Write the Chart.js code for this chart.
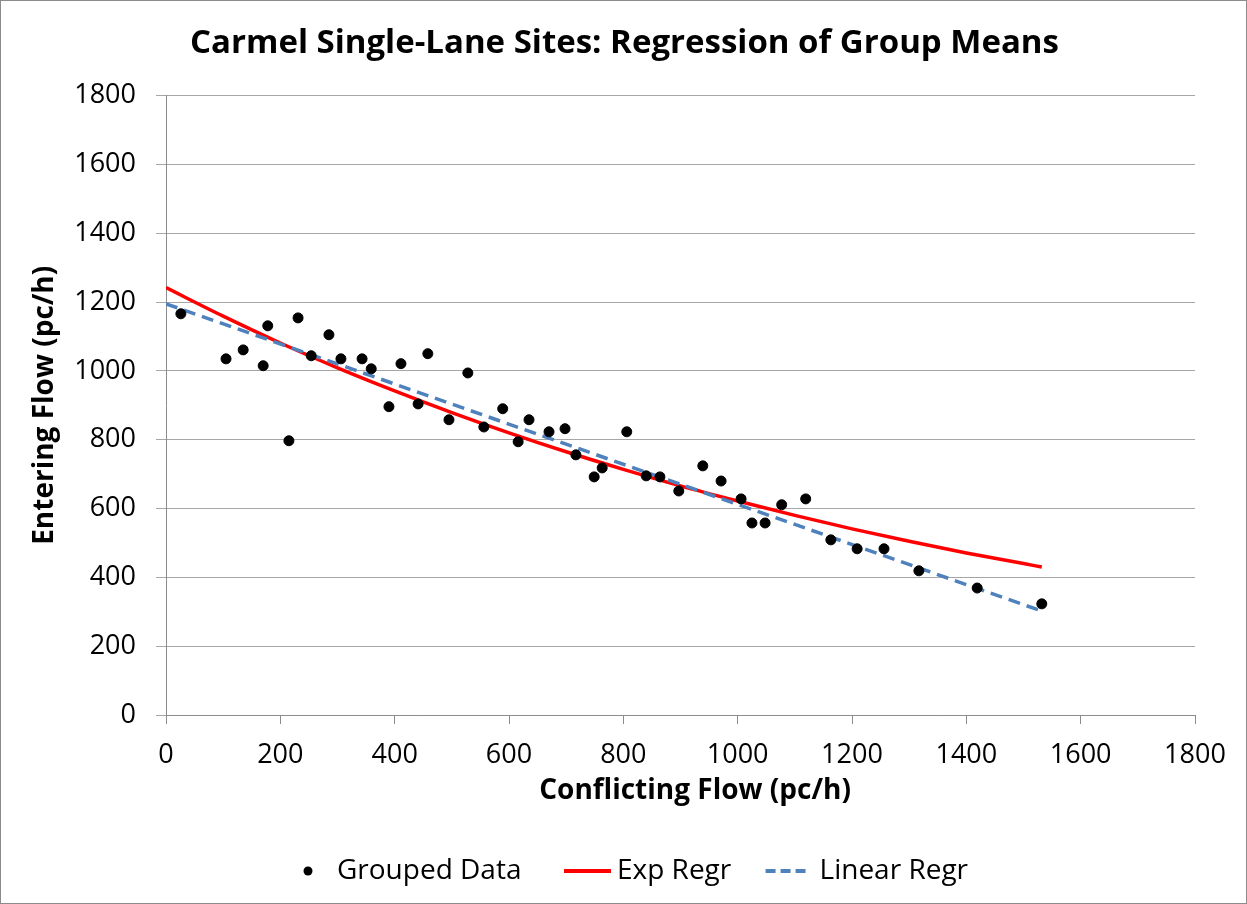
<!DOCTYPE html>
<html>
<head>
<meta charset="utf-8">
<script src="https://cdn.jsdelivr.net/npm/chart.js@4.4.1/dist/chart.umd.min.js"></script>
<style>
html,body{margin:0;padding:0;background:#fff;}
#wrap{width:1247px;height:904px;}
</style>
</head>
<body>
<div id="wrap"><canvas id="c" width="1247" height="904"></canvas></div>
<script>
// Grouped data (conflicting flow, entering flow), pc/h
const groupedX = [26,105,135,170,178,215,231,254,285,306,343,359,390,411,441,458,495,528,556,589,616,635,670,698,717,749,763,806,840,864,897,939,971,1006,1025,1048,1077,1119,1163,1209,1256,1317,1419,1532];
const groupedY = [1166,1035,1061,1015,1131,797,1154,1044,1105,1035,1035,1006,896,1021,904,1050,858,994,837,890,794,858,823,832,756,692,718,823,695,692,651,724,680,628,558,558,611,628,509,483,483,419,369,323];
// Exponential regression curve
const expX = [0,100,200,300,400,500,600,700,800,900,1000,1100,1200,1300,1400,1500,1532];
const expY = [1242,1159,1081,1009,942,879,820,765,714,666,622,580,541,505,471,440,430];
// Linear regression line
const linX = [0,1532];
const linY = [1195,302];
// Axis ticks
const axisTicks = [0,200,400,600,800,1000,1200,1400,1600,1800];
const seriesNames = ['Grouped Data','Exp Regr','Linear Regr'];

const FONT = "'Open Sans', sans-serif";
const LEG = 28;

function pts(xs, ys){ return xs.map((x,i)=>({x:x,y:ys[i]})); }

function legendIcon(kind){
  const c = document.createElement('canvas');
  c.width = 80; c.height = 20;
  const g = c.getContext('2d');
  if(kind==='dot'){
    g.fillStyle='#000'; g.beginPath(); g.arc(51,10,4.5,0,Math.PI*2); g.fill();
  } else if(kind==='red'){
    g.strokeStyle='#ff0000'; g.lineWidth=4; g.beginPath(); g.moveTo(27,10); g.lineTo(74,10); g.stroke();
  } else {
    g.strokeStyle='#4f81bd'; g.lineWidth=4; g.setLineDash([10,5]); g.beginPath(); g.moveTo(26,10); g.lineTo(69,10); g.stroke();
  }
  return c;
}
const icons = [legendIcon('dot'), legendIcon('red'), legendIcon('blue')];
const legendText = ['Grouped Data  ', 'Exp Regr ', 'Linear Regr'];

const borderPlugin = {
  id:'outerBorder',
  afterLayout(chart){
    const lg = chart.legend;
    if(lg){ lg.left += 11; lg.right += 11; }
    const tb = chart.titleBlock;
    if(tb){ tb.left += 16; tb.right += 16; }
  },
  afterDraw(chart){
    const ctx = chart.ctx;
    ctx.save();
    ctx.strokeStyle='#8c8c8c'; ctx.lineWidth=1;
    ctx.strokeRect(0.5,0.5,chart.width-1,chart.height-1);
    ctx.restore();
  }
};

new Chart(document.getElementById('c'), {
  type:'scatter',
  data:{
    datasets:[
      {label:seriesNames[0], data:pts(groupedX,groupedY), backgroundColor:'#000', borderColor:'#000',
       pointRadius:5, pointHoverRadius:5, pointStyle:'circle', showLine:false, order:0},
      {label:seriesNames[1], data:pts(expX,expY), borderColor:'#ff0000', backgroundColor:'#ff0000',
       borderWidth:3.5, showLine:true, pointRadius:0, cubicInterpolationMode:'monotone', order:2},
      {label:seriesNames[2], data:pts(linX,linY), borderColor:'#4f81bd', backgroundColor:'#4f81bd',
       borderWidth:3.5, borderDash:[12,7], showLine:true, pointRadius:0, order:1}
    ]
  },
  options:{
    responsive:false,
    animation:false,
    devicePixelRatio:1,
    layout:{padding:{left:22,right:52,top:8,bottom:9}},
    plugins:{
      title:{display:true, text:'Carmel Single-Lane Sites: Regression of Group Means',
        color:'#000', font:{family:FONT, size:33, weight:'bold'}, padding:{top:16,bottom:32}},
      legend:{position:'bottom', labels:{
        color:'#000', font:{family:FONT, size:LEG}, usePointStyle:true, pointStyleWidth:52, padding:15,
        generateLabels(chart){
          return chart.data.datasets.map((d,i)=>({text:legendText[i], pointStyle:icons[i], fillStyle:d.borderColor,
            strokeStyle:d.borderColor, lineWidth:0, hidden:false, datasetIndex:i, fontColor:'#000'}));
        }}},
      tooltip:{enabled:false}
    },
    scales:{
      x:{type:'linear', min:0, max:1800,
        afterBuildTicks(s){ s.ticks = axisTicks.map(v=>({value:v})); },
        afterFit(s){ s.height = 127; },
        ticks:{color:'#000', font:{family:FONT,size:27}, padding:15, maxRotation:0, callback:(v)=>String(v)},
        grid:{color:'rgba(0,0,0,0)', drawTicks:true, tickLength:9, tickColor:'#8c8c8c', tickWidth:1},
        border:{display:true, color:'#8c8c8c', width:1},
        title:{display:true, text:'    Conflicting Flow (pc/h)', color:'#000', font:{family:FONT,size:28,weight:'bold'}, padding:{top:0,bottom:34}}
      },
      y:{type:'linear', min:0, max:1800,
        afterBuildTicks(s){ s.ticks = axisTicks.map(v=>({value:v})); },
        afterFit(s){ s.width = 144; },
        ticks:{color:'#000', font:{family:FONT,size:27}, padding:20, callback:(v)=>String(v)},
        grid:{color:'#a6a6a6', lineWidth:1, drawTicks:true, tickLength:10, tickColor:'#a6a6a6'},
        border:{display:true, color:'#8c8c8c', width:1},
        title:{display:true, text:'Entering Flow (pc/h)', color:'#000', font:{family:FONT,size:28,weight:'bold'}, padding:{top:6,bottom:0}}
      }
    }
  },
  plugins:[borderPlugin]
});
</script>
</body>
</html>
